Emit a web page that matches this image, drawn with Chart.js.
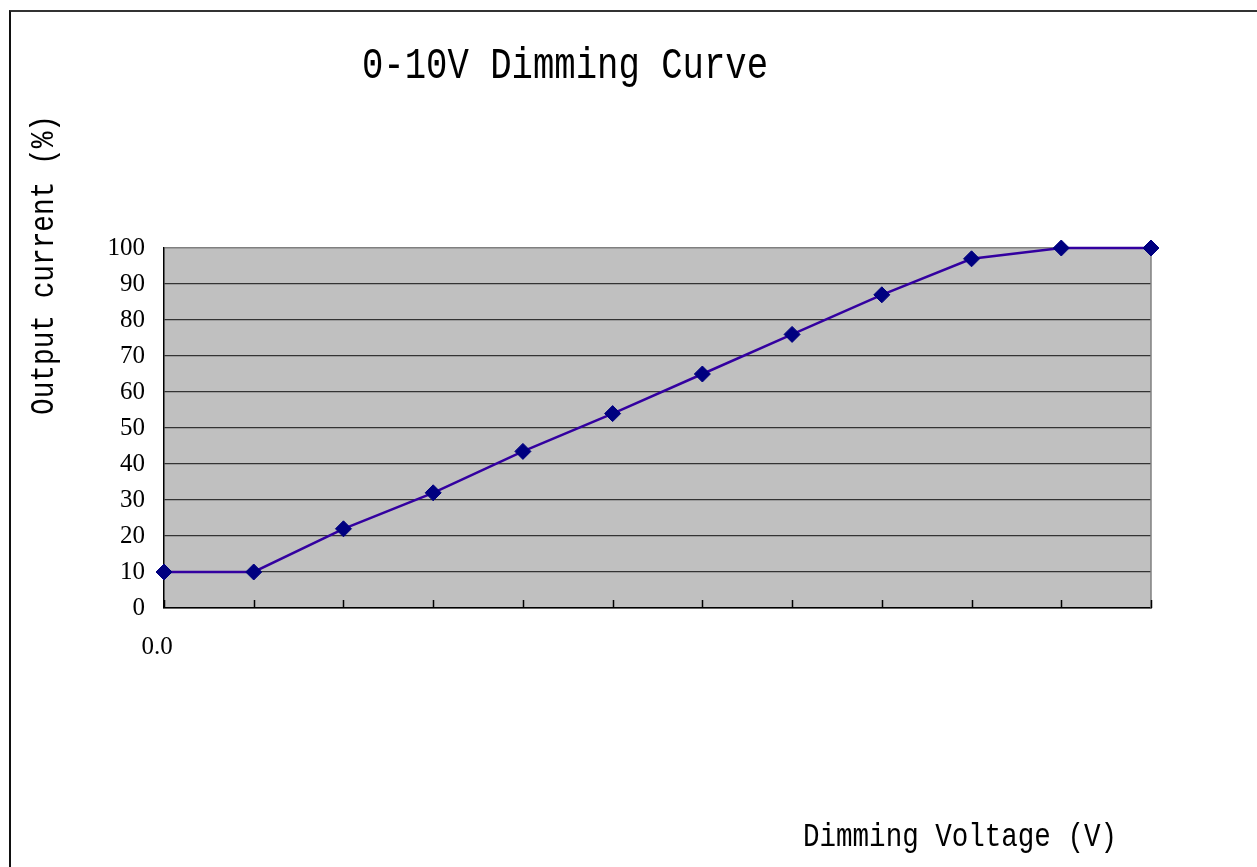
<!DOCTYPE html>
<html>
<head>
<meta charset="utf-8">
<script src="https://cdn.jsdelivr.net/npm/chart.js@4/dist/chart.umd.min.js"></script>
<style>
html, body { margin: 0; padding: 0; background: #fff; }
#wrap { position: relative; width: 1257px; height: 867px; overflow: hidden; }
#frame { position: absolute; left: 9px; top: 10px; width: 1300px; height: 900px; border-top: 2px solid #333; border-left: 2px solid #111; }
canvas { position: absolute; left: 0; top: 0; }
</style>
</head>
<body>
<div id="wrap">
  <div id="frame"></div>
  <canvas id="dimmingChart" width="1257" height="867"></canvas>
</div>
<script>
// valeurs
var voltageLabels = ['0.0', '', '', '', '', '', '', '', '', '', '', ''];
var outputCurrent = [10, 10, 22, 32, 43.5, 54, 65, 76, 87, 97, 100, 100];
var yTickValues = [0, 10, 20, 30, 40, 50, 60, 70, 80, 90, 100];

var chartTitle = '0-10V Dimming Curve';
var yTitle = 'Output current (%)';
var xTitle = 'Dimming Voltage (V)';

// fond gris de la zone de tracé
var plotBackground = {
    id: 'plotBackground',
    beforeDraw: function(chart) {
        var a = chart.chartArea, ctx = chart.ctx;
        ctx.save();
        ctx.fillStyle = '#C0C0C0';
        ctx.fillRect(a.left, a.top, a.right - a.left, a.bottom - a.top);
        ctx.restore();
    }
};

// bord droit gris + petites graduations vers l'intérieur
var plotFrame = {
    id: 'plotFrame',
    beforeDatasetsDraw: function(chart) {
        var a = chart.chartArea, ctx = chart.ctx, x = chart.scales.x;
        ctx.save();
        ctx.strokeStyle = '#808080';
        ctx.lineWidth = 1.5;
        ctx.beginPath();
        ctx.moveTo(a.right, a.top);
        ctx.lineTo(a.right, a.bottom);
        ctx.stroke();
        ctx.strokeStyle = '#000';
        ctx.lineWidth = 1.5;
        ctx.beginPath();
        for (var i = 0; i < voltageLabels.length; i++) {
            var px = Math.round(x.getPixelForValue(i)) + 0.5;
            ctx.moveTo(px, a.bottom);
            ctx.lineTo(px, a.bottom - 8);
        }
        ctx.stroke();
        ctx.restore();
    }
};

// texte resserré horizontalement pour tenir dans la largeur voulue
function drawSqueezed(ctx, text, x, y, width, angle) {
    var w = ctx.measureText(text).width;
    ctx.save();
    ctx.translate(x, y);
    if (angle) ctx.rotate(angle);
    ctx.scale(width / w, 1);
    ctx.fillText(text, 0, 0);
    ctx.restore();
}

// titres dessinés à leur place exacte
var titles = {
    id: 'titles',
    afterDraw: function(chart) {
        var ctx = chart.ctx;
        ctx.save();
        ctx.fillStyle = '#000';
        ctx.textAlign = 'center';
        ctx.textBaseline = 'middle';
        ctx.font = '44px "Liberation Mono"';
        drawSqueezed(ctx, chartTitle, 565, 66, 406, 0);
        ctx.font = '33px "Liberation Mono"';
        drawSqueezed(ctx, xTitle, 960, 837, 314, 0);
        drawSqueezed(ctx, yTitle, 44, 265, 300, -Math.PI / 2);
        ctx.restore();
    }
};

var ctx = document.getElementById('dimmingChart').getContext('2d');
var dimmingChart = new Chart(ctx, {
    type: 'line',
    data: {
        labels: voltageLabels,
        datasets: [{
            label: 'Output current',
            data: outputCurrent,
            borderColor: '#3300A0',
            borderWidth: 2.5,
            pointStyle: 'rectRot',
            pointRadius: 8,
            pointBackgroundColor: '#000080',
            pointBorderColor: '#000080',
            pointBorderWidth: 1,
            tension: 0,
            clip: false
        }]
    },
    options: {
        responsive: false,
        animation: false,
        devicePixelRatio: 1,
        layout: { padding: { top: 248, right: 106, left: 0, bottom: 0 } },
        scales: {
            x: {
                type: 'category',
                offset: false,
                afterFit: function(scale) { scale.height = 259; },
                grid: { display: false },
                border: { display: true, color: '#000', width: 1.5 },
                ticks: {
                    autoSkip: false,
                    maxRotation: 0,
                    padding: 16,
                    labelOffset: -7,
                    color: '#000',
                    font: { family: '"Liberation Serif"', size: 25 }
                }
            },
            y: {
                min: 0,
                max: 100,
                afterFit: function(scale) { scale.width = 164; },
                afterBuildTicks: function(scale) {
                    scale.ticks = yTickValues.map(function(v) { return { value: v }; });
                },
                grid: {
                    drawTicks: false,
                    color: function(c) { return c.tick && c.tick.value === 100 ? '#808080' : '#333'; },
                    lineWidth: function(c) { return c.tick && c.tick.value === 100 ? 1.5 : 1.2; }
                },
                border: { display: true, color: '#000', width: 1.5 },
                ticks: {
                    padding: 19,
                    color: '#000',
                    font: { family: '"Liberation Serif"', size: 25 }
                }
            }
        },
        plugins: {
            legend: { display: false },
            title: { display: false },
            tooltip: { enabled: false }
        }
    },
    plugins: [plotBackground, plotFrame, titles]
});
</script>
</body>
</html>
